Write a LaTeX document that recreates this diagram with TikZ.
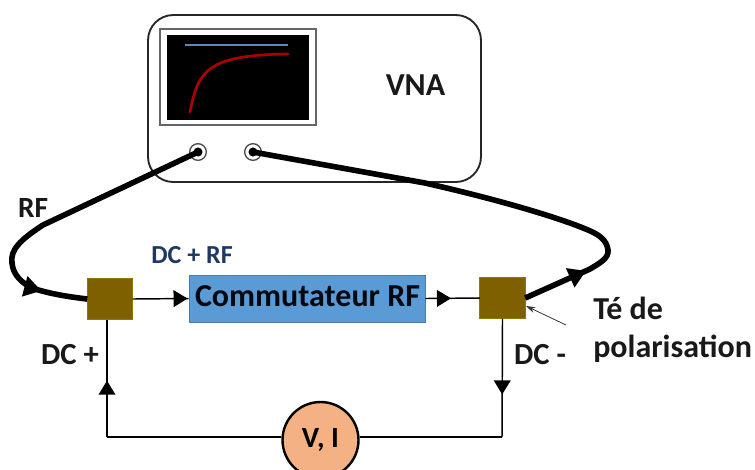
\documentclass[tikz,border=0pt]{standalone}
\usepackage{fontspec}
\setmainfont{Carlito}
\usetikzlibrary{arrows.meta,decorations.markings}
\definecolor{tee}{RGB}{127,96,0}
\definecolor{sw}{RGB}{91,155,213}
\definecolor{meter}{RGB}{244,177,131}
\definecolor{navy}{RGB}{31,56,100}
\definecolor{trace}{RGB}{192,0,0}
\definecolor{bluetrace}{RGB}{91,135,190}
\tikzset{
 x=0.75pt,y=-0.75pt,
 tee/.style={draw=tee!85!yellow,fill=tee,line width=0.6pt,minimum width=34pt,minimum height=31pt,inner sep=0pt,outer sep=0pt},
 port/.style={circle,draw=black!70,fill=white,line width=1pt,minimum size=12.5pt,inner sep=0pt},
 lab/.style={font=\bfseries,text=black!90,inner sep=0pt,align=left},
 thin wire/.style={line width=1.1pt,black},
 cable/.style={line width=4.2pt,black},
 midtip/.style={decoration={markings,mark=at position #1 with {\arrow{Triangle[length=10.5pt,width=12.5pt]}}},postaction={decorate}},
 bigtip/.style={decoration={markings,mark=at position #1 with {\arrow{Triangle[length=13pt,width=15pt]}}},postaction={decorate}},
}
\begin{document}
\begin{tikzpicture}
\useasboundingbox (0,0) rectangle (755,469);
\fill[white] (0,0) rectangle (755,469);
% VNA
\draw[line width=1.4pt,black!85,fill=white,rounded corners=19pt] (148,15) rectangle (481,182);
\node[draw=black!60,fill=white,line width=1pt,minimum width=117pt,minimum height=72pt,inner sep=0pt] (screen) at (238,77) {};
\fill[black] (167,35) rectangle (309,120);
\draw[bluetrace,line width=1.6pt] (185,45) -- (288,45);
\draw[trace!90!black,line width=2pt,line cap=round] (190,112) .. controls (198,70) and (208,55) .. (288,54);
\node[lab,font=\bfseries\fontsize{24}{28}\selectfont] (vna) at (415.5,85) {VNA};
\node[port] (p1) at (198,152) {};
\node[port] (p2) at (253,152) {};
\fill (p1) circle (3.4pt);
\fill (p2) circle (3.4pt);
% Blocks
\node[tee] (t1) at (110,299) {};
\node[tee] (t2) at (502.5,298) {};
\node[draw=sw!80!black,fill=sw,line width=0.5pt,minimum width=177pt,minimum height=35pt,inner sep=0pt] (sw) at (307,298.5) {};
\node[font=\bfseries\fontsize{24}{28}\selectfont,text=black!85!navy,inner sep=0pt] (swt) at (307.5,296) {Commutateur RF};
\node[circle,draw=black,fill=meter,line width=1.8pt,minimum size=57pt,inner sep=0pt,font=\bfseries\fontsize{22}{26}\selectfont] (m) at (320.5,440) {V, I};
% Cables
\draw[cable,bigtip={-35pt}] (p1.center) -- (43,225)
  .. controls (20,240) and (10,250) .. (12,263)
  .. controls (13,275) and (22,283) .. (32,288)
  .. controls (50,294) and (70,297) .. (t1.west);
\draw[cable,bigtip={50pt}] (t2.east) -- (590,269)
  .. controls (600,263) and (609,258) .. (608,250)
  .. controls (607,240) and (598,234) .. (588,230)
  .. controls (560,218) and (500,200) .. (425,183)
  -- (p2.center);
% Wires
\draw[thin wire,midtip={0.98}] (t1.east) -- (sw.west);
\draw[thin wire,midtip={0.47}] (sw.east) -- (t2.west);
\coordinate (cl) at (107,437);
\coordinate (cr) at (502,437);
\draw[thin wire] (cl -| m.west) -- (cl);
\draw[thin wire,midtip={0.48}] (cl) -- (cl |- t1.south);
\draw[thin wire,midtip={0.64}] (t2.south) -- (cr);
\draw[thin wire] (cr) -- (cr -| m.east);
% Pointer
\coordinate (pp) at (566,325);
\draw[line width=0.6pt,black!80,-{Stealth[length=7pt,width=4.5pt]}] (pp) -- (526,306);
% Labels
\node[lab,font=\bfseries\fontsize{22}{26}\selectfont] (rf) at (33,208) {RF};
\node[lab,font=\bfseries\fontsize{19.5}{23}\selectfont,text=navy] (dcrf) at (192,255) {DC + RF};
\node[lab,font=\bfseries\fontsize{23}{27}\selectfont] (dcp) at (70,355) {DC +};
\node[lab,font=\bfseries\fontsize{23}{27}\selectfont] (dcm) at (540,355) {DC -};
\node[lab,font=\bfseries\fontsize{24}{28.5}\selectfont,anchor=north west] (te) at (593,297) {Té de\\polarisation};
\end{tikzpicture}
\end{document}
